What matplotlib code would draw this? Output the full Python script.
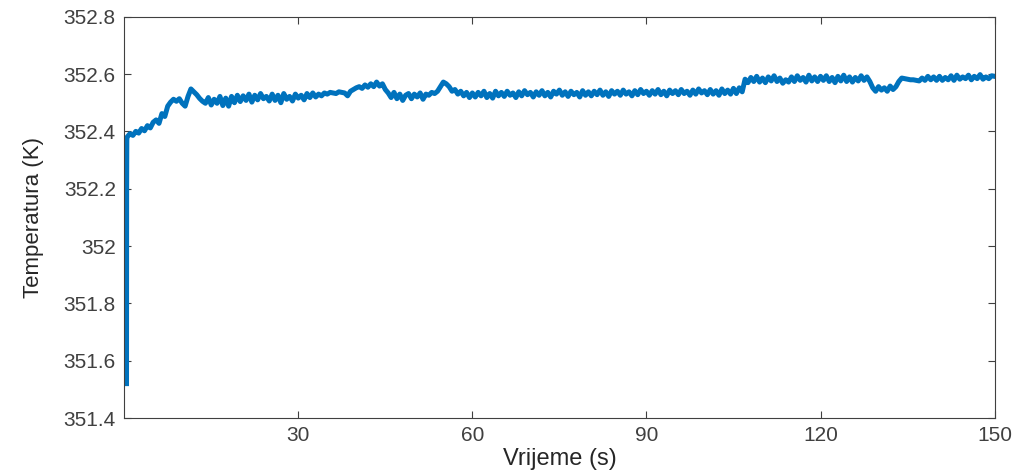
import numpy as np
import matplotlib
matplotlib.use("Agg")
import matplotlib.pyplot as plt
from matplotlib import font_manager

# start-up transient (s, K)
t_start = [0.4, 0.42, 0.45]
temp_start = [351.52, 352.20, 352.37]

# then one reading every 0.5 s from 0.5 s to 150 s
t_step = 0.5
temp = [
    352.380, 352.392, 352.386, 352.400, 352.394, 352.410, 352.402, 352.420, 352.412, 352.432,
    352.440, 352.428, 352.462, 352.452, 352.488, 352.502, 352.512, 352.505, 352.514, 352.498,
    352.488, 352.522, 352.548, 352.538, 352.528, 352.515, 352.505, 352.498, 352.518, 352.492,
    352.512, 352.498, 352.522, 352.490, 352.516, 352.488, 352.522, 352.500, 352.526, 352.504,
    352.524, 352.508, 352.530, 352.502, 352.526, 352.510, 352.532, 352.514, 352.522, 352.506,
    352.530, 352.508, 352.526, 352.500, 352.532, 352.512, 352.522, 352.506, 352.530, 352.516,
    352.526, 352.510, 352.532, 352.518, 352.534, 352.520, 352.530, 352.524, 352.534, 352.530,
    352.536, 352.534, 352.532, 352.538, 352.536, 352.534, 352.524, 352.540, 352.546, 352.552,
    352.556, 352.550, 352.562, 352.554, 352.566, 352.556, 352.572, 352.558, 352.566, 352.546,
    352.534, 352.518, 352.536, 352.514, 352.530, 352.508, 352.526, 352.532, 352.514, 352.530,
    352.520, 352.534, 352.512, 352.530, 352.526, 352.536, 352.532, 352.540, 352.556, 352.572,
    352.566, 352.556, 352.540, 352.546, 352.530, 352.540, 352.524, 352.536, 352.518, 352.534,
    352.520, 352.536, 352.524, 352.540, 352.518, 352.532, 352.516, 352.540, 352.524, 352.536,
    352.522, 352.540, 352.526, 352.534, 352.518, 352.538, 352.524, 352.542, 352.528, 352.536,
    352.520, 352.538, 352.526, 352.542, 352.524, 352.536, 352.520, 352.540, 352.530, 352.544,
    352.526, 352.538, 352.522, 352.540, 352.528, 352.536, 352.520, 352.542, 352.526, 352.538,
    352.524, 352.540, 352.528, 352.544, 352.526, 352.538, 352.522, 352.542, 352.530, 352.540,
    352.526, 352.544, 352.530, 352.538, 352.524, 352.542, 352.528, 352.546, 352.532, 352.540,
    352.526, 352.542, 352.530, 352.546, 352.528, 352.540, 352.524, 352.544, 352.532, 352.542,
    352.528, 352.546, 352.532, 352.540, 352.526, 352.544, 352.530, 352.548, 352.534, 352.542,
    352.528, 352.546, 352.530, 352.542, 352.526, 352.548, 352.532, 352.544, 352.530, 352.550,
    352.532, 352.552, 352.538, 352.582, 352.570, 352.588, 352.574, 352.592, 352.572, 352.586,
    352.570, 352.590, 352.576, 352.594, 352.574, 352.586, 352.568, 352.580, 352.572, 352.590,
    352.574, 352.594, 352.578, 352.588, 352.572, 352.596, 352.576, 352.590, 352.574, 352.592,
    352.578, 352.594, 352.574, 352.588, 352.570, 352.592, 352.576, 352.596, 352.574, 352.590,
    352.572, 352.588, 352.576, 352.594, 352.578, 352.590, 352.574, 352.552, 352.540, 352.556,
    352.544, 352.552, 352.540, 352.558, 352.546, 352.556, 352.574, 352.586, 352.584, 352.582,
    352.580, 352.580, 352.578, 352.576, 352.586, 352.578, 352.592, 352.580, 352.590, 352.578,
    352.592, 352.578, 352.588, 352.580, 352.594, 352.578, 352.596, 352.582, 352.590, 352.584,
    352.596, 352.580, 352.592, 352.584, 352.598, 352.582, 352.590, 352.584, 352.594, 352.592,
]

x_ticks = [30, 60, 90, 120, 150]
y_ticks = [351.4, 351.6, 351.8, 352.0, 352.2, 352.4, 352.6, 352.8]

t = np.concatenate([t_start, t_step * np.arange(2, len(temp) + 2) - 0.5])
y = np.concatenate([temp_start, temp])

# pick a narrow font for the y label if there is one
names = set(f.name for f in font_manager.fontManager.ttflist)
narrow = "Liberation Sans Narrow" if "Liberation Sans Narrow" in names else "Liberation Sans"

plt.rcParams['font.family'] = ['Liberation Sans', 'DejaVu Sans']
grey = '#404040'

fig = plt.figure(figsize=(10.18, 4.71), dpi=100)
ax = fig.add_axes([0.122, 0.1125, 0.855, 0.852])

ax.plot(t, y, color='#0072BD', linewidth=3.6, solid_joinstyle='round')

ax.set_xlim(0, 150)
ax.set_ylim(351.4, 352.8)
ax.set_xticks(x_ticks)
ax.set_yticks(y_ticks)
ax.set_yticklabels(['%g' % v for v in y_ticks])

ax.tick_params(direction='in', top=True, right=True, length=5, width=0.8,
               colors=grey, labelsize=15, pad=6)
for s in ax.spines.values():
    s.set_color(grey)
    s.set_linewidth(0.8)

ax.set_xlabel("Vrijeme (s)", fontsize=17, color='#262626', labelpad=2)
ax.set_ylabel("Temperatura (K)", fontsize=16, color='#262626', family=narrow, labelpad=14)

fig.savefig("out.png", dpi=100)
